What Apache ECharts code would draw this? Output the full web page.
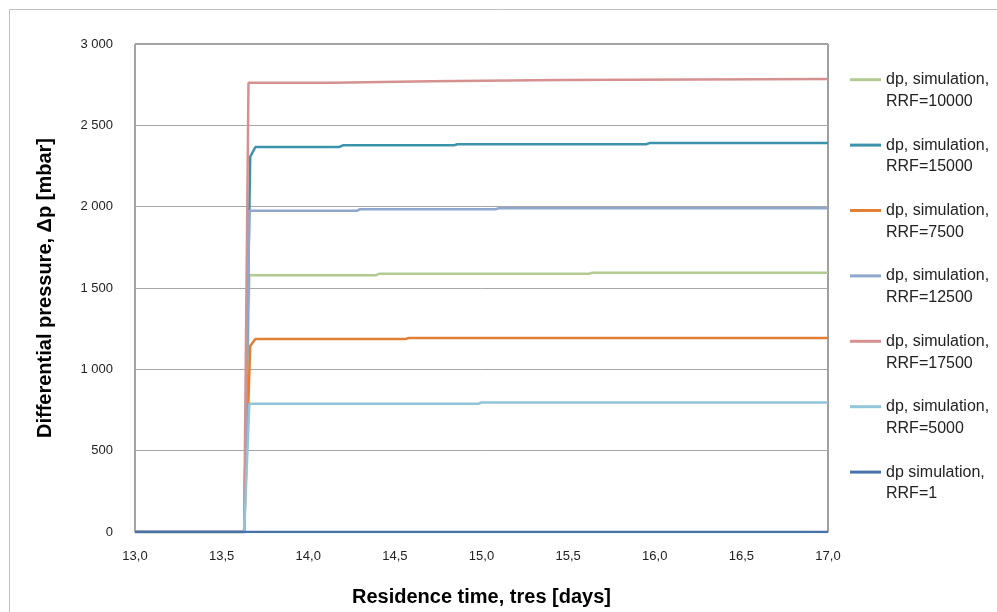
<!DOCTYPE html>
<html>
<head>
<meta charset="utf-8">
<script src="https://cdn.jsdelivr.net/npm/echarts@6/dist/echarts.min.js"></script>
<style>html,body{margin:0;padding:0;background:#fff;}#c{width:997px;height:612px;}</style>
</head>
<body>
<div id="c"></div>
<script>
// ---- data ----
const seriesNames = [
  'dp, simulation,\nRRF=10000',
  'dp, simulation,\nRRF=15000',
  'dp, simulation,\nRRF=7500',
  'dp, simulation,\nRRF=12500',
  'dp, simulation,\nRRF=17500',
  'dp, simulation,\nRRF=5000',
  'dp simulation,\nRRF=1'
];
const t_RRF10000 = [13.0, 13.63, 13.66, 14.39, 14.41, 15.62, 15.64, 17.0];
const dp_RRF10000 = [0, 0, 1578, 1578, 1588, 1588, 1594, 1594];
const t_RRF15000 = [13.0, 13.63, 13.665, 13.695, 14.18, 14.2, 14.84, 14.86, 15.95, 15.97, 17.0];
const dp_RRF15000 = [0, 0, 2307, 2367, 2367, 2377, 2377, 2384, 2384, 2391, 2391];
const t_RRF7500 = [13.0, 13.63, 13.665, 13.695, 14.56, 14.58, 17.0];
const dp_RRF7500 = [0, 0, 1143, 1186, 1186, 1193, 1193];
const t_RRF12500 = [13.0, 13.63, 13.66, 14.28, 14.3, 15.08, 15.1, 17.0];
const dp_RRF12500 = [0, 0, 1975, 1975, 1984, 1984, 1990, 1990];
const t_RRF17500 = [13.0, 13.63, 13.655, 14.14, 14.15, 14.71, 14.72, 15.46, 15.47, 17.0];
const dp_RRF17500 = [0, 0, 2762, 2762, 2771, 2771, 2778, 2778, 2785, 2785];
const t_RRF5000 = [13.0, 13.63, 13.66, 14.98, 15.0, 17.0];
const dp_RRF5000 = [0, 0, 788, 788, 796, 796];
const t_RRF1 = [13.0, 17.0];
const dp_RRF1 = [0, 0];

const seriesColors = ['#b3cb93', '#3a93ab', '#e07f35', '#8ea7cf', '#d59190', '#92c5d9', '#4a72aa'];
const seriesTimes = [t_RRF10000, t_RRF15000, t_RRF7500, t_RRF12500, t_RRF17500, t_RRF5000, t_RRF1];
const seriesValues = [dp_RRF10000, dp_RRF15000, dp_RRF7500, dp_RRF12500, dp_RRF17500, dp_RRF5000, dp_RRF1];

const FONT = 'Liberation Sans';
const chart = echarts.init(document.getElementById('c'), null, {renderer: 'canvas'});

const series = seriesNames.map((name, i) => ({
  name: name,
  type: 'line',
  symbol: 'none',
  showSymbol: false,
  animation: false,
  data: seriesTimes[i].map((t, k) => [t, seriesValues[i][k]]),
  lineStyle: {color: seriesColors[i], width: 2.5},
  itemStyle: {color: seriesColors[i]}
}));

chart.setOption({
  animation: false,
  backgroundColor: '#ffffff',
  graphic: [{
    type: 'rect',
    shape: {x: 9.5, y: 9.5, width: 1000, height: 700},
    style: {fill: 'none', stroke: '#bfbfbf', lineWidth: 1},
    silent: true, z: -10
  }],
  grid: {
    left: 135, right: 169, top: 44, bottom: 80,
    show: true, borderColor: '#404040', borderWidth: 1, backgroundColor: 'transparent'
  },
  legend: {
    orient: 'vertical',
    left: 850, top: 47,
    padding: 0,
    itemGap: 0,
    icon: 'rect',
    itemWidth: 31, itemHeight: 3,
    data: seriesNames,
    formatter: name => ' \n' + name,
    textStyle: {
      fontFamily: FONT, fontSize: 16, color: '#222', lineHeight: 21.8
    }
  },
  xAxis: {
    type: 'value',
    min: 13, max: 17, interval: 0.5,
    name: 'Residence time, tres [days]',
    nameLocation: 'middle', nameGap: 55,
    nameTextStyle: {fontFamily: FONT, fontSize: 20, fontWeight: 'bold', color: '#000'},
    axisLine: {show: true, lineStyle: {color: '#a6a6a6', width: 1}},
    axisTick: {show: false},
    splitLine: {show: false},
    axisLabel: {
      fontFamily: FONT, fontSize: 13, color: '#222', margin: 18,
      formatter: v => v.toFixed(1).replace('.', ',')
    }
  },
  yAxis: {
    type: 'value',
    min: 0, max: 3000, interval: 500,
    name: 'Differential pressure, Δp [mbar]',
    nameLocation: 'middle', nameGap: 80,
    nameTextStyle: {fontFamily: FONT, fontSize: 20, fontWeight: 'bold', color: '#000'},
    axisLine: {show: true, lineStyle: {color: '#a6a6a6', width: 1}},
    axisTick: {show: false},
    splitLine: {show: true, lineStyle: {color: '#a6a6a6', width: 1}},
    axisLabel: {
      fontFamily: FONT, fontSize: 13, color: '#222', margin: 22,
      formatter: v => String(v).replace(/\B(?=(\d{3})+(?!\d))/g, ' ')
    }
  },
  series: series
});
</script>
</body>
</html>
